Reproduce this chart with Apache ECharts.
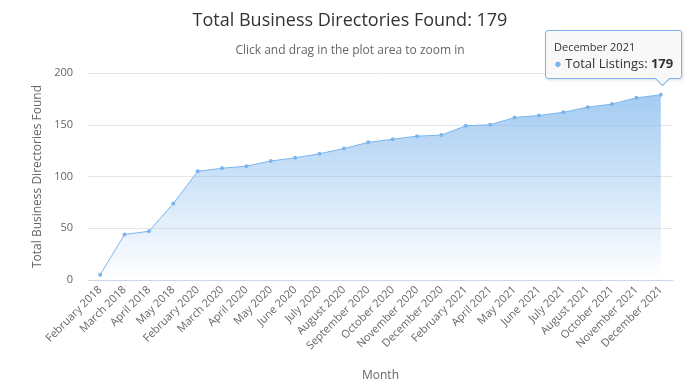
<!DOCTYPE html>
<html><head><meta charset="utf-8">
<script src="https://cdn.jsdelivr.net/npm/echarts@6/dist/echarts.min.js"></script>
<style>html,body{margin:0;padding:0;background:#fff}#c{width:700px;height:388px}</style>
</head><body><div id="c"></div>
<script>
const months = ["February 2018","March 2018","April 2018","May 2018","February 2020","March 2020","April 2020","May 2020","June 2020","July 2020","August 2020","September 2020","October 2020","November 2020","December 2020","February 2021","April 2021","May 2021","June 2021","July 2021","August 2021","October 2021","November 2021","December 2021"];
const listings = [5,44,47,74,105,108,110,115,118,122,127,133,136,139,140,149,150,157,159,162,167,170,176,179];
const seriesName = "Total Listings";
const titleText = "Total Business Directories Found: 179";
const subtitleText = "Click and drag in the plot area to zoom in";
const yAxisName = "Total Business Directories Found";
const xAxisName = "Month";

const FONT = "'Open Sans', sans-serif";
const chart = echarts.init(document.getElementById('c'), null, {renderer: 'canvas'});
chart.setOption({
  animation: false,
  textStyle: {fontFamily: FONT},
  title: {
    text: titleText, subtext: subtitleText, left: 'center', top: 7, itemGap: 15,
    textStyle: {fontFamily: FONT, fontSize: 18, fontWeight: 'normal', color: '#333333'},
    subtextStyle: {fontFamily: FONT, fontSize: 12, color: '#666666'}
  },
  grid: {left: 88, right: 27, top: 73, bottom: 108, containLabel: false},
  tooltip: {
    trigger: 'item', triggerOn: 'none', alwaysShowContent: true, transitionDuration: 0,
    backgroundColor: 'rgba(247,247,247,0.92)', borderColor: '#7cb5ec', borderWidth: 1,
    padding: [7, 8, 6, 8], extraCssText: 'border-radius:3px;box-shadow:1px 1px 3px rgba(0,0,0,0.15);overflow:visible;',
    position: function (point, params, dom, rect, size) {
      return [point[0] - 116, point[1] - size.contentSize[1] - 16];
    },
    formatter: function (p) {
      return '<div style="font-family:' + FONT.replace(/'/g, '') + ';color:#333;line-height:17px;">' +
        '<div style="font-size:11px;">' + p.name + '</div>' +
        '<div style="font-size:13px;"><span style="color:#7cb5ec;">\u25CF</span> ' + p.seriesName + ': <b>' + p.value + '</b></div>' +
        '</div>' +
        '<div style="position:absolute;left:111px;bottom:-6px;width:10px;height:10px;background:rgb(247,247,247);border-right:1px solid #7cb5ec;border-bottom:1px solid #7cb5ec;transform:rotate(45deg);"></div>';
    }
  },
  xAxis: {
    type: 'category', data: months, boundaryGap: true,
    name: xAxisName, nameLocation: 'middle', nameGap: 90,
    nameTextStyle: {fontFamily: FONT, fontSize: 12, color: '#666666'},
    axisLine: {lineStyle: {color: '#ccd6eb'}},
    axisTick: {show: false},
    axisLabel: {rotate: 45, interval: 0, fontSize: 11, color: '#666666', margin: 8, fontFamily: FONT}
  },
  yAxis: {
    type: 'value', min: 0, max: 200, interval: 50,
    name: yAxisName, nameLocation: 'middle', nameGap: 42,
    nameTextStyle: {fontFamily: FONT, fontSize: 12, color: '#666666'},
    axisLine: {show: false}, axisTick: {show: false},
    axisLabel: {fontSize: 11, color: '#666666', margin: 15, fontFamily: FONT},
    splitLine: {lineStyle: {color: '#e6e6e6'}}
  },
  series: [{
    name: seriesName, type: 'line', data: listings,
    symbol: 'circle', symbolSize: 4, showSymbol: true,
    lineStyle: {color: '#7cb5ec', width: 1},
    itemStyle: {color: '#7cb5ec'},
    areaStyle: {
      color: new echarts.graphic.LinearGradient(0, 0, 0, 1, [
        {offset: 0, color: 'rgba(124,181,236,1)'},
        {offset: 1, color: 'rgba(124,181,236,0)'}
      ])
    },
    emphasis: {disabled: true}
  }]
});
chart.dispatchAction({type: 'showTip', seriesIndex: 0, dataIndex: listings.length - 1});
</script></body></html>
